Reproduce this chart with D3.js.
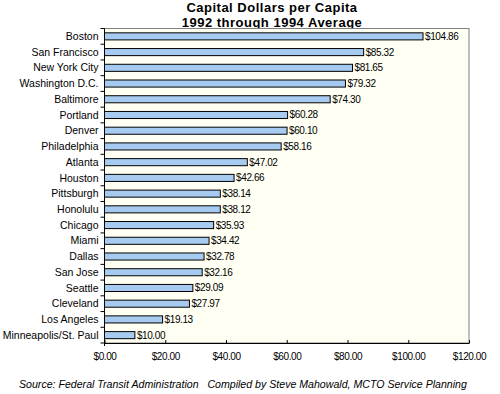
<!DOCTYPE html>
<html>
<head>
<meta charset="utf-8">
<script src="https://cdn.jsdelivr.net/npm/d3@7"></script>
<style>
  body { margin: 0; background: #fff; }
  svg { display: block; font-family: "Liberation Sans", Arial, sans-serif; }
</style>
</head>
<body>
<svg width="500" height="394"></svg>
<script>
// data
const cities = ["Boston", "San Francisco", "New York City", "Washington D.C.", "Baltimore",
  "Portland", "Denver", "Philadelphia", "Atlanta", "Houston", "Pittsburgh", "Honolulu",
  "Chicago", "Miami", "Dallas", "San Jose", "Seattle", "Cleveland", "Los Angeles",
  "Minneapolis/St. Paul"];
const dollars = [104.86, 85.32, 81.65, 79.32, 74.30, 60.28, 60.10, 58.16, 47.02, 42.66,
  38.14, 38.12, 35.93, 34.42, 32.78, 32.16, 29.09, 27.97, 19.13, 10.00];
const xTicks = [0, 20, 40, 60, 80, 100, 120];

const margin = { top: 28.5, right: 31, bottom: 51, left: 104.5 };
const width = 500 - margin.left - margin.right;
const height = 394 - margin.top - margin.bottom;

const svg = d3.select("svg");
const fmt = d3.format("$.2f");

// title, letter-spaced a little to get the reference width
svg.append("text")
  .attr("x", 272).attr("y", 12)
  .attr("text-anchor", "middle")
  .style("font-size", "13px").style("font-weight", "bold").style("letter-spacing", "0.5px")
  .text("Capital Dollars per Capita");
svg.append("text")
  .attr("x", 272).attr("y", 27)
  .attr("text-anchor", "middle")
  .style("font-size", "13px").style("font-weight", "bold").style("letter-spacing", "0.5px")
  .text("1992 through 1994 Average");

const g = svg.append("g")
  .attr("transform", `translate(${margin.left}, ${margin.top})`);

const x = d3.scaleLinear().domain([0, 120]).range([0, width]);
const y = d3.scaleBand().domain(cities).range([0, height]).paddingInner(0.55).paddingOuter(0.275);

// plot area
g.append("rect")
  .attr("width", width).attr("height", height)
  .attr("fill", "#fffff3")
  .attr("stroke", "#808080");

// bars
g.selectAll("rect.bar")
  .data(cities)
  .enter()
  .append("rect")
  .attr("class", "bar")
  .attr("x", 0)
  .attr("y", d => y(d))
  .attr("width", (d, i) => x(dollars[i]))
  .attr("height", y.bandwidth())
  .attr("fill", "#a6caf0")
  .attr("stroke", "#000")
  .attr("stroke-width", 1);

// value labels
g.selectAll("text.val")
  .data(cities)
  .enter()
  .append("text")
  .attr("class", "val")
  .attr("x", (d, i) => x(dollars[i]) + 2)
  .attr("y", d => y(d) + y.bandwidth() / 2)
  .attr("dy", "0.35em")
  .style("font-size", "10px")
  .style("letter-spacing", "-0.4px")
  .text((d, i) => fmt(dollars[i]));

// y axis: ticks at category boundaries
const yAxis = g.append("g");
yAxis.append("line")
  .attr("x1", 0).attr("x2", 0).attr("y1", 0).attr("y2", height + 3)
  .attr("stroke", "#000");
yAxis.selectAll("line.tk")
  .data(d3.range(cities.length + 1))
  .enter()
  .append("line")
  .attr("class", "tk")
  .attr("x1", -4).attr("x2", 0)
  .attr("y1", i => i * y.step())
  .attr("y2", i => i * y.step())
  .attr("stroke", "#000");
yAxis.selectAll("text")
  .data(cities)
  .enter()
  .append("text")
  .attr("x", -6)
  .attr("y", d => y(d) + y.bandwidth() / 2)
  .attr("dy", "0.35em")
  .attr("text-anchor", "end")
  .style("font-size", "10.5px")
  .text(d => d);

// x axis
const xAxis = g.append("g")
  .attr("transform", `translate(0, ${height})`)
  .call(d3.axisBottom(x).tickValues(xTicks).tickSize(-3).tickSizeOuter(0).tickPadding(10).tickFormat(fmt));
xAxis.select(".domain").attr("stroke", "#000");
xAxis.selectAll("text")
  .style("font-size", "10px")
  .style("letter-spacing", "-0.4px")
  .style("font-family", "'Liberation Sans', Arial, sans-serif");

// footer
svg.append("text")
  .attr("x", 19).attr("y", 388)
  .style("font-size", "10.6px")
  .style("font-style", "italic")
  .attr("xml:space", "preserve")
  .text("Source: Federal Transit Administration   Compiled by Steve Mahowald, MCTO Service Planning");
</script>
</body>
</html>
